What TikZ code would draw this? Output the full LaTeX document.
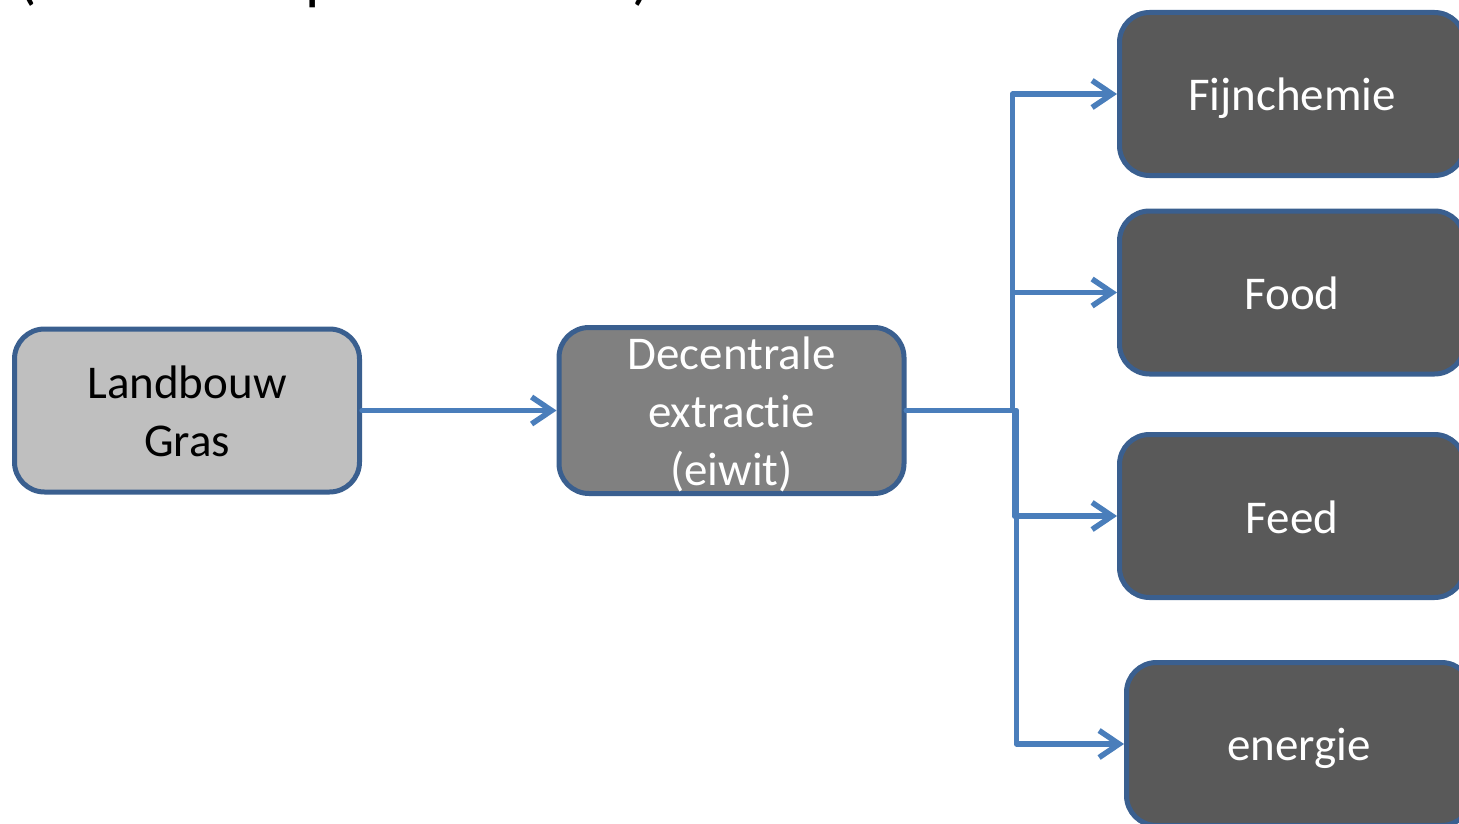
\documentclass[tikz,border=0pt]{standalone}
\usepackage{fontspec}
\setmainfont{Carlito}[Ligatures=NoCommon]
\usetikzlibrary{arrows.meta}
\definecolor{edgeblue}{HTML}{3A5F8F}
\definecolor{linkblue}{HTML}{4A7EBB}
\definecolor{lightfill}{HTML}{BFBFBF}
\definecolor{midfill}{HTML}{808080}
\definecolor{darkfill}{HTML}{595959}
% fixed line box so every label is centred on its line boxes, not its glyphs
\newcommand\lbox{\rule[-8pt]{0pt}{50pt}}
\tikzset{
  stepbox/.style={draw=edgeblue, line width=5pt, rounded corners=30pt,
    minimum width=345pt, minimum height=163pt, inner sep=0pt,
    align=center, font=\fontsize{47}{58}\selectfont},
  lightbox/.style={stepbox, fill=lightfill, text=black},
  midbox/.style={stepbox, fill=midfill, text=white},
  darkbox/.style={stepbox, fill=darkfill, text=white},
  link/.style={draw=linkblue, line width=5.5pt, line cap=round, line join=round,
    -{Straight Barb[length=20pt,width=27pt,line width=5.5pt]}},
  titlepart/.style={anchor=base west, inner sep=0pt, font=\fontsize{64}{76}\selectfont}
}
\begin{document}
\begin{tikzpicture}[x=1pt,y=-1pt]
  \useasboundingbox (0,0) rectangle (1459,824);
  % title line above, mostly outside the frame
  \node[titlepart] (tA) at (17,-2) {(};
  \node[titlepart] (tB) at (305,-2) {p};
  \node[titlepart] (tC) at (632,-2) {)};
  % boxes
  \node[lightbox] (gras) at (187,410.5) {\lbox Landbouw\\\lbox Gras};
  \node[midbox] (dec) at (731.5,410.5) {\lbox Decentrale\\\lbox extractie\\\lbox (eiwit)};
  \node[darkbox] (fijn) at (1292,94) {\lbox Fijnchemie};
  \node[darkbox] (food) at (1292,292.5) {\lbox Food};
  \node[darkbox] (feed) at (1292,516) {\lbox Feed};
  \node[darkbox] (ener) at (1299,744) {\lbox energie};
  % connectors
  \draw[link] (gras.east) -- (dec.west);
  \draw[link] (dec.east) -- ++(106,0) |- (fijn.west);
  \draw[link] (dec.east) -- ++(106,0) |- (food.west);
  \draw[link] (dec.east) -- ++(108,0) |- (feed.west);
  \draw[link] (dec.east) -- ++(110,0) |- (ener.west);
\end{tikzpicture}
\end{document}
